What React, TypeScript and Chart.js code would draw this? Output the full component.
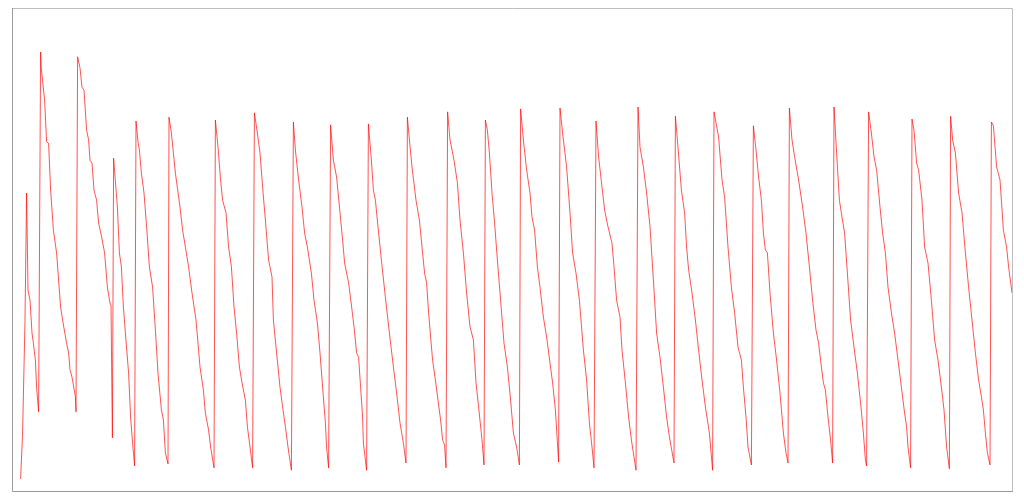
import React, { useEffect, useRef } from "react";
import { Chart, registerables } from "chart.js";

Chart.register(...registerables);

// Sample times (x)
const sampleTimes: number[] = [
  4.3, 5.3, 6.5, 7.3, 8, 9, 10, 10.7, 11.7, 12.3, 13.3,
  14.3, 14.7, 16.3, 17.3, 18.3, 19.3, 20.7, 22.3, 23.3, 24.3, 25.3, 27.3, 28.3, 29, 30, 31.7, 32,
  32.8, 34, 35, 36, 37.3, 38.3, 39, 40, 41, 42.3, 43.3, 44.8, 46.3, 47.7, 49, 49.5, 50.2,
  50.8, 52.7, 53.7, 54.7, 55.7, 56.7, 58.3, 59.3, 60.3, 61.3,
  62, 63, 63.7, 64.7, 66, 67.3, 68.7, 70.3, 71.7, 73, 74.7, 75.7, 76.7, 78,
  78.5, 79.7, 81.7, 84, 85.3, 86.7, 88.3, 90, 92, 94, 95.7, 96.7, 98.3, 99.3, 101,
  101.7, 103, 104.3, 105.3, 107, 108.3, 109.7, 111, 112.3, 113.7, 115, 116.7, 117.7, 119, 120.3,
  121.2, 122.7, 124, 125.3, 126.7, 128.3, 130, 130.7, 132.3, 134, 135.3, 136.7, 138, 139.7,
  140.7, 141.7, 143.3, 145, 146.3, 147.7, 149.7, 151, 152.7, 154, 155.3, 156.7, 157.3, 158.3,
  159.3, 160.7, 162.3, 164, 165.3, 166.3, 168.3, 170, 171, 172.3, 173.3, 174.3, 175.3, 175.7, 177.3,
  178.2, 179.7, 180.7, 181.7, 183, 184.7, 186.3, 188.7, 190.7, 192.3, 194, 195.7, 197,
  197.7, 198.7, 200, 202, 203.7, 205, 206.3, 207.3, 208.3, 209.3, 210.3, 211.7, 213, 214.3, 215.3, 216.3, 217,
  217.8, 219, 221, 222.7, 224, 225.7, 227.3, 229, 230.7, 232, 233.3, 235, 236,
  236.7, 237.7, 238.7, 240, 241.3, 242.7, 244.3, 246, 247.7, 249.3, 250.7, 252.3, 253.7,
  254.3, 255.7, 257.3, 259, 260, 261.3, 262.7, 264, 265.7, 267.3, 269, 270.3, 271.7, 273.3,
  274, 275.3, 277.3, 279, 280.3, 282, 283.7, 285.7, 287.3, 288.7, 290, 291,
  292, 293.3, 295, 296.3, 298, 300, 301, 302.3, 304, 305, 306.7, 308.3, 309.7, 312,
  313, 314, 315.7, 317.3, 319, 320.7, 322.3, 324, 325.7, 327.3, 328.7, 331,
  331.7, 332.7, 334.7, 336.3, 337.3, 338.3, 340, 341.7, 343.3, 345, 346.7, 348.7, 350.3,
  351, 353.3, 355, 356.3, 358, 359.7, 361.3, 363, 364.7, 365.7, 367, 368, 369.7,
  370.7, 372, 373.3, 374.7, 375.7, 376.7, 377.7, 379, 380.7, 382.3, 384, 385.7, 387, 388,
  388.7, 390, 391.3, 393.3, 395.3, 397, 398.7, 400.3, 402, 403.3, 404.7, 405.7, 406.7, 408, 409.3, 410.3,
  411, 412.3, 413.7, 415, 416.3, 417.7, 419.3, 421, 422.7, 424.3, 425.7, 426.7, 427.3,
  428.3, 429.7, 431, 432.3, 434, 435.3, 436.7, 438, 439.7, 441.3, 443, 444.7, 446.3, 447.3, 448, 449.3,
  450, 451, 452.3, 453.3, 455, 456.3, 458, 459.7, 461.3, 463, 464.7, 466, 467.3, 468.7,
  469.3, 470.3, 471.7, 473.3, 475, 476.7, 478.3, 480, 481.7, 483.3, 484.7, 485.7, 486.7, 487.7, 489,
  489.7, 490.7, 492.3, 494, 495.7, 497.3, 498.3, 500,
];

// Levels (y)
const levels: number[] = [
  2.5, 12.0, 35.4, 61.7, 41.6, 39.5, 32.7, 30.6, 27.1, 21.5, 16.4,
  90.9, 87.2, 81.0, 72.3, 72.0, 62.3, 54.0, 49.3, 43.7, 38.1, 35.4, 30.6, 28.6, 25.1, 23.6, 19.5, 16.4,
  89.9, 87.6, 83.6, 83.0, 74.7, 72.7, 68.5, 67.9, 62.3, 60.2, 55.5, 52.6, 49.3, 42.2, 38.9, 38.5, 11.0,
  68.9, 58.8, 49.3, 46.4, 38.1, 32.7, 24.4, 15.3, 9.9, 5.2,
  76.6, 72.3, 70.6, 65.8, 61.7, 54.7, 46.4, 42.2, 33.3, 24.4, 16.8, 14.7, 7.9, 5.6,
  77.4, 74.1, 65.8, 58.8, 54.0, 50.5, 46.4, 41.0, 35.4, 25.7, 20.9, 16.1, 12.6, 9.1, 4.8,
  76.8, 71.2, 64.4, 60.2, 57.6, 50.5, 46.4, 38.1, 32.7, 25.7, 22.4, 18.8, 13.3, 9.1, 4.8,
  78.3, 74.1, 70.0, 62.9, 56.1, 47.8, 44.3, 35.4, 28.6, 21.5, 17.4, 13.3, 9.1, 4.3,
  76.4, 70.6, 64.4, 58.8, 53.4, 50.5, 45.1, 39.5, 34.8, 28.6, 21.5, 14.1, 9.1, 4.8,
  75.8, 68.5, 65.0, 57.6, 52.0, 47.2, 43.1, 37.5, 34.0, 28.6, 27.7, 21.5, 15.3, 9.9, 4.3,
  76.0, 68.5, 62.3, 60.2, 54.7, 47.8, 41.6, 32.7, 25.7, 20.3, 14.1, 9.9, 5.8,
  77.4, 72.7, 67.1, 60.2, 56.1, 50.5, 45.1, 43.1, 36.9, 31.9, 27.1, 23.0, 18.8, 14.7, 10.6, 9.5, 4.8,
  78.5, 72.7, 68.5, 63.8, 56.1, 49.3, 41.0, 34.0, 31.3, 22.4, 17.4, 10.6, 5.4,
  76.8, 74.7, 70.0, 61.7, 55.5, 47.8, 39.5, 30.6, 25.7, 18.8, 12.0, 9.1, 5.4,
  79.1, 72.7, 66.5, 61.7, 56.7, 54.0, 46.4, 42.2, 36.0, 31.9, 26.5, 22.4, 16.8, 6.0,
  79.3, 74.1, 67.1, 57.6, 49.3, 45.1, 39.5, 29.2, 23.0, 14.1, 9.1, 4.8,
  76.6, 69.2, 62.9, 58.2, 54.7, 51.3, 46.4, 39.5, 36.0, 29.2, 22.4, 15.3, 10.6, 4.3,
  79.5, 71.2, 67.1, 61.7, 54.7, 43.7, 32.7, 27.7, 21.5, 15.3, 11.2, 5.8,
  77.6, 72.7, 62.3, 57.6, 50.5, 45.8, 41.0, 35.4, 29.2, 23.0, 17.4, 12.0, 4.3,
  78.5, 73.3, 64.4, 60.9, 50.5, 42.2, 36.9, 29.8, 27.1, 21.5, 15.3, 9.1, 5.4,
  75.6, 70.6, 65.0, 60.2, 53.4, 49.9, 49.3, 41.0, 32.7, 27.1, 20.3, 12.0, 7.9, 5.8,
  79.3, 72.7, 69.2, 64.4, 58.8, 53.4, 46.4, 39.5, 33.3, 30.6, 25.7, 22.4, 20.9, 15.3, 10.6, 5.8,
  79.5, 70.0, 60.2, 56.7, 53.4, 45.1, 35.4, 29.8, 24.4, 18.2, 12.0, 6.4, 5.2,
  78.5, 74.1, 69.2, 66.5, 58.8, 53.4, 49.3, 42.2, 36.9, 32.7, 27.1, 21.5, 16.1, 13.3, 9.1, 4.8,
  77.0, 74.7, 67.9, 66.5, 60.2, 50.5, 47.2, 39.5, 31.3, 27.1, 21.5, 16.8, 9.1, 4.6,
  77.6, 72.7, 70.0, 61.7, 57.6, 49.3, 42.2, 35.4, 28.6, 23.0, 19.5, 16.8, 12.0, 7.9, 5.4,
  76.4, 75.6, 67.1, 64.4, 54.0, 50.5, 46.4, 41.0,
];

const X_MIN = 0;
const X_MAX = 500;
const Y_MIN = 0;
const Y_MAX = 100;

const frameBorder = {
  id: "frameBorder",
  afterDraw(chart: any) {
    const { ctx, chartArea } = chart;
    const { left, right, top, bottom } = chartArea;
    ctx.save();
    ctx.lineWidth = 1;
    ctx.strokeStyle = "#bdbdbd";
    ctx.beginPath();
    ctx.moveTo(left, top + 0.5);
    ctx.lineTo(right + 0.5, top + 0.5);
    ctx.lineTo(right + 0.5, bottom);
    ctx.stroke();
    ctx.strokeStyle = "#9a9a9a";
    ctx.beginPath();
    ctx.moveTo(left + 0.5, top);
    ctx.lineTo(left + 0.5, bottom + 0.5);
    ctx.lineTo(right + 1, bottom + 0.5);
    ctx.stroke();
    ctx.restore();
  },
};

export default function App() {
  const canvasRef = useRef<HTMLCanvasElement | null>(null);

  useEffect(() => {
    if (!canvasRef.current) return;
    const points = sampleTimes.map((t, i) => ({ x: t, y: levels[i] }));
    const chart = new Chart(canvasRef.current, {
      type: "line",
      data: {
        datasets: [
          {
            data: points,
            borderColor: "rgba(255, 0, 0, 0.68)",
            borderWidth: 1,
            pointRadius: 0,
            tension: 0,
            fill: false,
          },
        ],
      },
      options: {
        animation: false,
        responsive: true,
        maintainAspectRatio: false,
        layout: { padding: { left: 4, right: 4, top: 0, bottom: 1 } },
        scales: {
          x: { type: "linear", min: X_MIN, max: X_MAX, display: false },
          y: { type: "linear", min: Y_MIN, max: Y_MAX, display: false },
        },
        plugins: {
          legend: { display: false },
          tooltip: { enabled: false },
        },
      },
      plugins: [frameBorder],
    });
    return () => chart.destroy();
  }, []);

  return (
    <div style={{ position: "relative", width: "100%", height: "484px" }}>
      <canvas ref={canvasRef} />
    </div>
  );
}
